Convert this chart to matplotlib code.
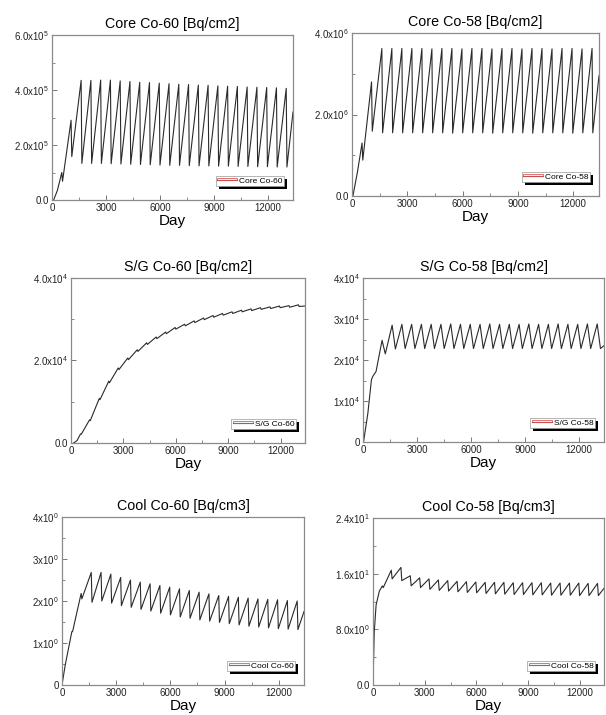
import numpy as np
import matplotlib
matplotlib.use('Agg')
import matplotlib.pyplot as plt
from matplotlib.ticker import FixedLocator, MultipleLocator
from matplotlib.patches import Rectangle

plt.rcParams['font.family'] = ['Liberation Sans', 'DejaVu Sans']
plt.rcParams['mathtext.fontset'] = 'custom'
plt.rcParams['mathtext.rm'] = 'Liberation Sans'
plt.rcParams['mathtext.it'] = 'Liberation Sans:italic'
plt.rcParams['mathtext.bf'] = 'Liberation Sans:bold'

# day at which each fuel cycle ends (refuelling outage)
outage_day = [545, 1060, 1620, 2163, 2706, 3249, 3792, 4335, 4878, 5421, 5964, 6507,
              7050, 7593, 8136, 8679, 9222, 9765, 10308, 10851, 11394, 11937, 12480, 13023]
end_day = 13400

# Core Co-60 [x1e5 Bq/cm2]
core60_head_day = [90, 300]
core60_head = [0.0, 0.35]
core60_peak = [1.00, 2.90, 4.35, 4.35, 4.36, 4.36, 4.33, 4.31, 4.28, 4.27, 4.25, 4.23,
               4.21, 4.20, 4.18, 4.17, 4.15, 4.14, 4.13, 4.11, 4.10, 4.09, 4.08, 4.06]
core60_trough = [0.68, 1.58, 1.33, 1.33, 1.33, 1.32, 1.31, 1.30, 1.29, 1.28, 1.27, 1.26,
                 1.26, 1.25, 1.24, 1.24, 1.23, 1.23, 1.22, 1.22, 1.21, 1.21, 1.20, 1.20]
core60_end = 3.20

# Core Co-58 [x1e6 Bq/cm2]
core58_head_day = [50, 300]
core58_head = [0.0, 0.60]
core58_peak = [1.30, 2.80, 3.62, 3.62, 3.62, 3.62, 3.62, 3.61, 3.62, 3.62, 3.61, 3.62,
               3.62, 3.61, 3.62, 3.62, 3.61, 3.62, 3.62, 3.61, 3.62, 3.62, 3.61, 3.62]
core58_trough = [0.88, 1.59, 1.55, 1.55, 1.55, 1.55, 1.55, 1.55, 1.55, 1.54, 1.55, 1.55,
                 1.55, 1.54, 1.55, 1.55, 1.55, 1.54, 1.55, 1.55, 1.55, 1.54, 1.55, 1.55]
core58_end = 2.95

# S/G Co-60 [x1e4 Bq/cm2]
sg60_head_day = [150, 350]
sg60_head = [0.0, 0.06]
sg60_peak = [0.22, 0.56, 1.08, 1.50, 1.82, 2.06, 2.26, 2.43, 2.57, 2.69, 2.80, 2.88,
             2.96, 3.03, 3.09, 3.14, 3.18, 3.22, 3.25, 3.28, 3.30, 3.32, 3.33, 3.35]
sg60_trough = [0.21, 0.54, 1.05, 1.46, 1.78, 2.02, 2.22, 2.39, 2.53, 2.65, 2.76, 2.84,
               2.92, 2.99, 3.05, 3.10, 3.14, 3.18, 3.21, 3.24, 3.26, 3.28, 3.29, 3.31]
sg60_end = 3.32

# S/G Co-58 [x1e4 Bq/cm2]
sg58_head_day = [30, 270, 470]
sg58_head = [0.0, 0.70, 1.52]
sg58_peak = [1.60, 2.48, 2.85, 2.87, 2.87, 2.87, 2.87, 2.87, 2.88, 2.87, 2.87, 2.87,
             2.88, 2.87, 2.87, 2.87, 2.88, 2.87, 2.87, 2.88, 2.87, 2.87, 2.88, 2.88]
sg58_trough = [1.72, 2.15, 2.27, 2.28, 2.28, 2.28, 2.28, 2.28, 2.28, 2.28, 2.28, 2.28,
               2.28, 2.28, 2.28, 2.28, 2.28, 2.28, 2.28, 2.28, 2.28, 2.28, 2.28, 2.28]
sg58_end = 2.35

# Cool Co-60 [Bq/cm3]
cool60_head_day = [0, 180]
cool60_head = [0.0, 0.48]
cool60_peak = [1.27, 2.18, 2.68, 2.68, 2.64, 2.56, 2.50, 2.45, 2.41, 2.37, 2.33, 2.29,
               2.25, 2.21, 2.17, 2.13, 2.11, 2.09, 2.07, 2.05, 2.04, 2.03, 2.01, 2.00]
cool60_trough = [1.27, 2.05, 1.97, 2.00, 1.95, 1.89, 1.85, 1.80, 1.76, 1.71, 1.67, 1.62,
                 1.59, 1.55, 1.52, 1.49, 1.46, 1.43, 1.40, 1.38, 1.36, 1.34, 1.33, 1.32]
cool60_end = 1.75

# Cool Co-58 [Bq/cm3]
cool58_head_day = [0, 70, 180, 370]
cool58_head = [0.0, 7.5, 11.5, 13.5]
cool58_peak = [14.25, 16.5, 16.9, 15.7, 15.4, 15.25, 15.1, 15.0, 14.9, 14.85, 14.8, 14.75,
               14.75, 14.75, 14.7, 14.7, 14.7, 14.7, 14.65, 14.65, 14.65, 14.65, 14.6, 14.6]
cool58_trough = [14.0, 15.25, 15.0, 14.25, 14.0, 13.75, 13.6, 13.5, 13.4, 13.3, 13.25, 13.15,
                 13.1, 13.05, 13.0, 13.0, 12.95, 12.95, 12.9, 12.9, 12.9, 12.85, 12.85, 12.85]
cool58_end = 13.9

x_ticks = [0, 3000, 6000, 9000, 12000]


def build_series(head_day, head, peak, trough, drop, end, scale):
    # join start-up points, then peak / post-outage value for every cycle
    days = list(head_day)
    vals = list(head)
    for d, p, t in zip(outage_day, peak, trough):
        days += [d, d + drop]
        vals += [p, t]
    days.append(end_day)
    vals.append(end)
    return np.array(days), np.array(vals) * scale


def style_axes(ax, title, yticks, ylabels, yminor):
    ax.set_title(title, fontsize=10.3, pad=5)
    ax.set_xlim(0, end_day)
    ax.set_ylim(yticks[0], yticks[-1])
    ax.xaxis.set_major_locator(FixedLocator(x_ticks))
    ax.xaxis.set_minor_locator(MultipleLocator(1500))
    ax.yaxis.set_major_locator(FixedLocator(yticks))
    ax.yaxis.set_minor_locator(MultipleLocator(yminor))
    ax.set_yticklabels(ylabels)
    ax.set_xlabel('Day', fontsize=11, labelpad=1)
    ax.tick_params(which='both', direction='in', top=False, right=False,
                   color='#777777', labelsize=7, labelcolor='#222222', pad=2)
    ax.tick_params(which='major', length=3.5, width=0.7)
    ax.tick_params(which='minor', length=2, width=0.6)
    for s in ax.spines.values():
        s.set_color('#8a8a8a')
        s.set_linewidth(0.9)


def main():
    W, H = 606, 715
    fig = plt.figure(figsize=(W / 100, H / 100), dpi=100)

    # left, right, top, bottom in pixels
    boxes = [(52, 293, 35, 200), (352, 599, 33, 196),
             (71, 305, 278, 443), (363, 604, 278, 442),
             (62, 304, 517, 685), (373, 604, 518, 685)]

    panels = [
        ('Core Co-60 [Bq/cm2]', 'Core Co-60',
         build_series(core60_head_day, core60_head, core60_peak, core60_trough, 40, core60_end, 1e5),
         [0, 2e5, 4e5, 6e5], ['0.0', '2.0x10$^5$', '4.0x10$^5$', '6.0x10$^5$'], 1e5),
        ('Core Co-58 [Bq/cm2]', 'Core Co-58',
         build_series(core58_head_day, core58_head, core58_peak, core58_trough, 40, core58_end, 1e6),
         [0, 2e6, 4e6], ['0.0', '2.0x10$^6$', '4.0x10$^6$'], 1e6),
        ('S/G Co-60 [Bq/cm2]', 'S/G Co-60',
         build_series(sg60_head_day, sg60_head, sg60_peak, sg60_trough, 40, sg60_end, 1e4),
         [0, 2e4, 4e4], ['0.0', '2.0x10$^4$', '4.0x10$^4$'], 1e4),
        ('S/G Co-58 [Bq/cm2]', 'S/G Co-58',
         build_series(sg58_head_day, sg58_head, sg58_peak, sg58_trough, 180, sg58_end, 1e4),
         [0, 1e4, 2e4, 3e4, 4e4], ['0', '1x10$^4$', '2x10$^4$', '3x10$^4$', '4x10$^4$'], 0.5e4),
        ('Cool Co-60 [Bq/cm3]', 'Cool Co-60',
         build_series(cool60_head_day, cool60_head, cool60_peak, cool60_trough, 40, cool60_end, 1),
         [0, 1, 2, 3, 4], ['0', '1x10$^0$', '2x10$^0$', '3x10$^0$', '4x10$^0$'], 0.5),
        ('Cool Co-58 [Bq/cm3]', 'Cool Co-58',
         build_series(cool58_head_day, cool58_head, cool58_peak, cool58_trough, 50, cool58_end, 1),
         [0, 8, 16, 24], ['0.0', '8.0x10$^0$', '1.6x10$^1$', '2.4x10$^1$'], 4),
    ]

    legends = []
    for (l, r, t, b), (title, name, (x, y), yt, yl, ym) in zip(boxes, panels):
        ax = fig.add_axes([l / W, 1 - b / H, (r - l) / W, (b - t) / H])
        ax.plot(x, y, color='#2a2a2a', lw=0.8, label=name)
        style_axes(ax, title, yt, yl, ym)
        w, h = r - l, b - t
        leg = ax.legend(loc='lower right', bbox_to_anchor=(1 - 9 / w, 14 / h),
                        borderaxespad=0, fontsize=6, frameon=True, fancybox=False,
                        edgecolor='#999999', framealpha=1, shadow=False,
                        borderpad=0.15, handlelength=2.4, handletextpad=0.3)
        leg.get_frame().set_linewidth(0.5)
        legends.append((ax, leg))

    # black drop shadow and the red outline round the legend line sample
    fig.canvas.draw()
    renderer = fig.canvas.get_renderer()
    for ax, leg in legends:
        fb = leg.get_frame().get_window_extent(renderer)
        ax.add_artist(Rectangle((fb.x0 + 3, fb.y0 - 3), fb.width, fb.height,
                                transform=None, facecolor='black', edgecolor='none',
                                zorder=4.9))
        lb = leg.get_lines()[0].get_window_extent(renderer)
        ax.add_artist(Rectangle((lb.x0, lb.y0 - 0.5), lb.width, fb.y1 - lb.y0 - 1.5,
                                transform=None, fill=False, edgecolor='#e05a5a',
                                lw=0.6, zorder=6))

    fig.savefig('out.png', dpi=100)


if __name__ == "__main__":
    main()
